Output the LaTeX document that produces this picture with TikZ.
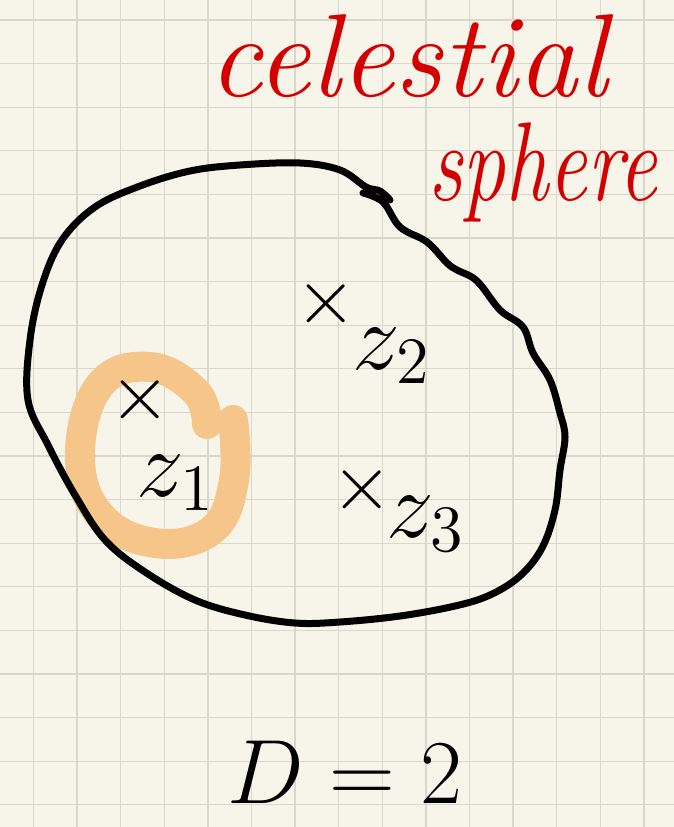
\documentclass[tikz,border=0pt]{standalone}
\definecolor{paper}{HTML}{F7F5E9}
\definecolor{gridc}{HTML}{D9D7CB}
\definecolor{redink}{HTML}{D40000}
\definecolor{hl}{HTML}{F6C58A}
\begin{document}
\begin{tikzpicture}[x=1pt,y=-1pt,
  inkline/.style={line width=7pt, line cap=round, line join=round},
  gridline/.style={gridc, line width=1.3pt},
  redtext/.style={text=redink, inner sep=0pt, font=\fontsize{20}{20}\selectfont\itshape},
  markx/.style={inner sep=0pt, scale=3.8, font=\fontsize{20}{20}\selectfont},
  zlabel/.style={inner sep=0pt, scale=4.6, font=\fontsize{20}{20}\selectfont},
  ]
\fill[paper] (0,0) rectangle (674,827);
\useasboundingbox (0,0) rectangle (674,827);
\foreach \i in {0,...,14} \draw[gridline] ({33.5+43.6*\i},0) -- ({33.5+43.6*\i},827);
\foreach \j in {0,...,18} \draw[gridline] (0,{20+43.6*\j}) -- (674,{20+43.6*\j});

% highlight ring
\draw[hl, line width=30pt, line cap=round, line join=round]
  plot[smooth, tension=0.7] coordinates {(207,424) (196,392) (150,367) (100,385) (80,455) (100,515) (155,543) (212,530) (234,480) (233,420)};

% celestial sphere outline
\draw[inkline] plot[smooth, tension=0.6] coordinates {
  (363,193) (383,202) (400,227) (427,242) (447,263) (457,270) (477,281)
  (500,310) (523,327) (533,353) (550,380) (560,413) (565,437) (560,470)
  (555,510) (542,548) (520,576) (490,595) (455,606) (400,616) (340,622)
  (295,623) (245,615) (195,600) (145,572) (105,540) (75,495) (48,445)
  (28,400) (30,340) (42,285) (62,240) (95,207) (140,186) (190,171)
  (240,165) (300,163) (340,170) (366,187) (380,191) (390,200)};

% title
\node[redtext, anchor=base, xscale=6, yscale=5.9] (t1) at (408,96) {celestial};
\node[redtext, anchor=base, xscale=4.3, yscale=5.6] (t2) at (543,200) {sphere};

% points
\node[markx] (m1) at (140,400) {$\times$};
\node[zlabel] (z1) at (176,483) {$z_1$};
\node[markx] (m2) at (326,304) {$\times$};
\node[zlabel] (z2) at (392,356) {$z_2$};
\node[markx] (m3) at (362,490) {$\times$};
\node[zlabel] (z3) at (426,524) {$z_3$};

% D = 2
\node[inner sep=0pt, scale=4.4, font=\fontsize{20}{20}\selectfont] (d) at (345,772) {$D=2$};
\end{tikzpicture}
\end{document}
